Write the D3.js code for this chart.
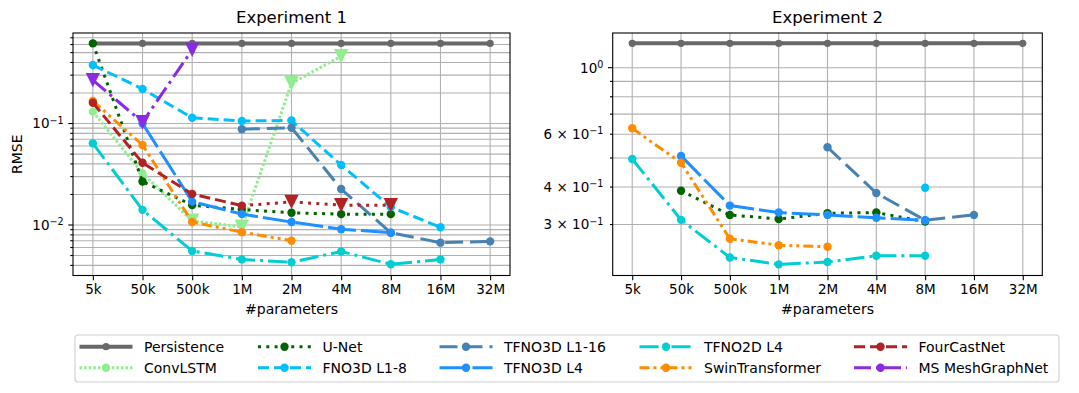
<!DOCTYPE html>
<html><head><meta charset="utf-8">
<script src="https://cdn.jsdelivr.net/npm/d3@7"></script>
<style>
body{margin:0;background:#fff}
svg{display:block}
text{font-family:"DejaVu Sans",sans-serif;fill:#000}
</style>
</head><body>
<svg id="c" width="1079" height="393"></svg>
<script>
// ---------------- data ----------------
const categories = ["5k","50k","500k","1M","2M","4M","8M","16M","32M"];

// Experiment 1 (RMSE); null = not evaluated
const e1Persistence  = [0.616,0.616,0.616,0.616,0.616,0.616,0.616,0.616,0.616];
const e1ConvLSTM     = [0.131,0.0323,0.0110,0.0096,0.249,0.462,null,null,null];
const e1UNet         = [0.616,0.0268,0.0157,0.0142,0.0132,0.0128,0.0128,null,null];
const e1FNO3D_L1_8   = [0.377,0.219,0.114,0.106,0.107,0.039,0.0150,0.0095,null];
const e1TFNO3D_L1_16 = [null,null,null,0.088,0.091,0.0226,0.0084,0.0067,0.0069];
const e1TFNO3D_L4    = [null,0.100,0.0170,0.0128,0.0107,0.0091,0.0084,null,null];
const e1TFNO2D_L4    = [0.0638,0.0141,0.00555,0.00458,0.00430,0.00548,0.00410,0.00458,null];
const e1Swin         = [0.167,0.0614,0.0107,0.0085,0.0070,null,null,null,null];
const e1FourCastNet  = [0.160,0.041,0.0202,0.0155,0.0169,0.0157,0.0157,null,null];
const e1MeshGraphNet = [0.268,0.103,0.533,null,null,null,null,null,null];

// Experiment 2 (RMSE)
const e2Persistence  = [1.206,1.206,1.206,1.206,1.206,1.206,1.206,1.206,1.206];
const e2UNet         = [null,0.389,0.323,0.313,0.327,0.329,0.307,null,null];
const e2FNO3D_L1_8   = [null,null,null,null,null,null,0.398,null,null];
const e2TFNO3D_L1_16 = [null,null,null,null,0.543,0.382,0.310,0.323,null];
const e2TFNO3D_L4    = [null,0.508,0.347,0.329,0.323,0.316,0.310,null,null];
const e2TFNO2D_L4    = [0.496,0.311,0.233,0.221,0.225,0.236,0.236,null,null];
const e2Swin         = [0.628,0.482,0.269,0.256,0.253,null,null,null,null];

// y-axis tick labels
const e1YLabels = [0.1, 0.01];
const e2YLabels = [1, 0.6, 0.4, 0.3];

// ---------------- styles ----------------
const series = [
  {name:"Persistence",     color:"#686868", w:4,   dash:null,              r:3.6, e1:e1Persistence, e2:e2Persistence},
  {name:"ConvLSTM",        color:"#90ee90", w:3,   dash:"2.6,2",           r:4.2, e1:e1ConvLSTM, triFrom:2},
  {name:"U-Net",           color:"#006400", w:3,   dash:"3,5.3",           r:4.2, e1:e1UNet, e2:e2UNet},
  {name:"FNO3D L1-8",      color:"#00bfff", w:3,   dash:"11,5",            r:4.2, e1:e1FNO3D_L1_8, e2:e2FNO3D_L1_8},
  {name:"TFNO3D L1-16",    color:"#4682b4", w:3,   dash:"18,7",            r:4.2, e1:e1TFNO3D_L1_16, e2:e2TFNO3D_L1_16},
  {name:"TFNO3D L4",       color:"#1e90ff", w:3,   dash:"28,5",            r:4.2, e1:e1TFNO3D_L4, e2:e2TFNO3D_L4},
  {name:"TFNO2D L4",       color:"#00ced1", w:3,   dash:"19,5,3,5",        r:4.2, e1:e1TFNO2D_L4, e2:e2TFNO2D_L4},
  {name:"SwinTransformer", color:"#ff8c00", w:3,   dash:"10,4,3,4,3,4",    r:4.2, e1:e1Swin, e2:e2Swin},
  {name:"FourCastNet",     color:"#b22222", w:3,   dash:"11,5",            r:4.2, e1:e1FourCastNet, triFrom:4, altFrom:3, altDash:"3,5.3"},
  {name:"MS MeshGraphNet", color:"#8a2be2", w:3,   dash:"17,5,3,5",        r:4.2, e1:e1MeshGraphNet, triFrom:0}
];

const svg = d3.select("#c");
const Y0 = 33, Y1 = 275.5;
const FS = 13.5;

function expStr(e){ return (e<0?"\u2212":"") + Math.abs(e); }

function panel(cfg){
  const g = svg.append("g");
  const x = d3.scalePoint().domain(categories).range([cfg.x0, cfg.x1]).padding(0.4);
  const y = d3.scaleLog().domain(cfg.ydom).range([Y1, Y0]);
  const clipId = "clip"+cfg.key;
  svg.append("clipPath").attr("id",clipId).append("rect")
     .attr("x",cfg.x0).attr("y",Y0).attr("width",cfg.x1-cfg.x0).attr("height",Y1-Y0);

  // log ticks (major + minor)
  const allTicks = [];
  for(let e=-4;e<=1;e++) for(let m=1;m<=9;m++){
    const v = +(m*Math.pow(10,e)).toPrecision(6);
    if(v>=cfg.ydom[0] && v<=cfg.ydom[1]) allTicks.push({v, major:m===1});
  }
  // grid
  const grid = g.append("g").attr("stroke","#b0b0b0").attr("stroke-width",1.1);
  grid.selectAll("line.h").data(allTicks).join("line")
    .attr("x1",cfg.x0).attr("x2",cfg.x1)
    .attr("y1",d=>y(d.v)).attr("y2",d=>y(d.v));
  grid.selectAll("line.v").data(categories).join("line")
    .attr("x1",d=>x(d)).attr("x2",d=>x(d)).attr("y1",Y0).attr("y2",Y1);

  // series
  const sg = g.append("g").attr("clip-path",`url(#${clipId})`);
  series.forEach(s=>{
    const vals = s[cfg.key];
    if(!vals) return;
    const pts = vals.map((v,i)=>({c:categories[i], v, i}));
    const line = d3.line().defined(d=>d.v!=null).x(d=>x(d.c)).y(d=>y(d.v));
    const segs = [];
    if(s.altFrom!=null){
      segs.push({p:pts.filter(d=>d.i<=s.altFrom), dash:s.dash});
      segs.push({p:pts.filter(d=>d.i>=s.altFrom), dash:s.altDash});
    } else segs.push({p:pts, dash:s.dash});
    segs.forEach(sgm=>{
      sg.append("path").attr("d",line(sgm.p)).attr("fill","none")
        .attr("stroke",s.color).attr("stroke-width",s.w)
        .attr("stroke-dasharray",sgm.dash);
    });
    const valid = pts.filter(d=>d.v!=null);
    const tri = s.triFrom!=null ? (d=>d.i>=s.triFrom) : (d=>false);
    sg.selectAll(null).data(valid.filter(d=>!tri(d))).join("circle")
      .attr("cx",d=>x(d.c)).attr("cy",d=>y(d.v)).attr("r",s.r).attr("fill",s.color);
    const T = 7.2;
    sg.selectAll(null).data(valid.filter(tri)).join("path")
      .attr("transform",d=>`translate(${x(d.c)},${y(d.v)})`)
      .attr("d",`M${-T},${-T}L${T},${-T}L0,${T}Z`).attr("fill",s.color);
  });

  // frame
  g.append("rect").attr("x",cfg.x0).attr("y",Y0).attr("width",cfg.x1-cfg.x0).attr("height",Y1-Y0)
    .attr("fill","none").attr("stroke","#000").attr("stroke-width",1.1);

  // x axis
  const xa = g.append("g").attr("transform",`translate(0,${Y1})`)
    .call(d3.axisBottom(x).tickSize(4.7).tickSizeOuter(0).tickPadding(4));
  xa.select(".domain").remove();
  xa.selectAll("line").attr("stroke-width",1.1);
  xa.selectAll("text").style("font-size",FS+"px").style("font-family","DejaVu Sans");

  // y ticks
  const yt = g.append("g");
  yt.selectAll("line").data(allTicks).join("line")
    .attr("x1",d=>cfg.x0-(d.major?4.7:2.7)).attr("x2",cfg.x0)
    .attr("y1",d=>y(d.v)).attr("y2",d=>y(d.v)).attr("stroke","#000").attr("stroke-width",1.1);
  cfg.labels.forEach(v=>{
    const e = Math.floor(Math.log10(v)+1e-9);
    const m = Math.round(v/Math.pow(10,e));
    const t = g.append("text").attr("x",cfg.x0-9.3).attr("y",y(v)).attr("dy","0.36em")
      .attr("text-anchor","end").style("font-size",FS+"px");
    t.append("tspan").text(m===1 ? "10" : m+" \u00d7 10");
    t.append("tspan").attr("dy","-0.5em").style("font-size","9.6px").text(expStr(e));
  });

  // titles
  g.append("text").attr("x",(cfg.x0+cfg.x1)/2).attr("y",23).attr("text-anchor","middle")
    .style("font-size","16.5px").text(cfg.title);
  g.append("text").attr("x",(cfg.x0+cfg.x1)/2).attr("y",314).attr("text-anchor","middle")
    .style("font-size","14px").text("#parameters");
  if(cfg.ylabel){
    g.append("text").attr("transform",`translate(22,${(Y0+Y1)/2}) rotate(-90)`)
      .attr("text-anchor","middle").style("font-size","14px").text(cfg.ylabel);
  }
}

panel({key:"e1", x0:73, x1:510, ydom:[0.00318,0.78], labels:e1YLabels, title:"Experiment 1", ylabel:"RMSE"});
panel({key:"e2", x0:612.7, x1:1042.3, ydom:[0.2029,1.305], labels:e2YLabels, title:"Experiment 2"});

// ---------------- legend ----------------
const lg = svg.append("g");
lg.append("rect").attr("x",75).attr("y",335).attr("width",984).attr("height",47).attr("rx",3)
  .attr("fill","#fff").attr("stroke","#d0d0d0").attr("stroke-width",1.1);
const colX = [79.5, 258, 439.5, 639.5, 854];
const rowY = [346.7, 367.7];
const HL = 53;
series.forEach((s,i)=>{
  const col = Math.floor(i/2), row = i%2;
  const x0 = colX[col], yy = rowY[row];
  lg.append("line").attr("x1",x0).attr("x2",x0+HL).attr("y1",yy).attr("y2",yy)
    .attr("stroke",s.color).attr("stroke-width",s.w).attr("stroke-dasharray",s.dash);
  lg.append("circle").attr("cx",x0+HL/2).attr("cy",yy).attr("r",s.r).attr("fill",s.color);
  lg.append("text").attr("x",x0+64.5).attr("y",yy+5).style("font-size","14px").text(s.name);
});
</script>
</body></html>
